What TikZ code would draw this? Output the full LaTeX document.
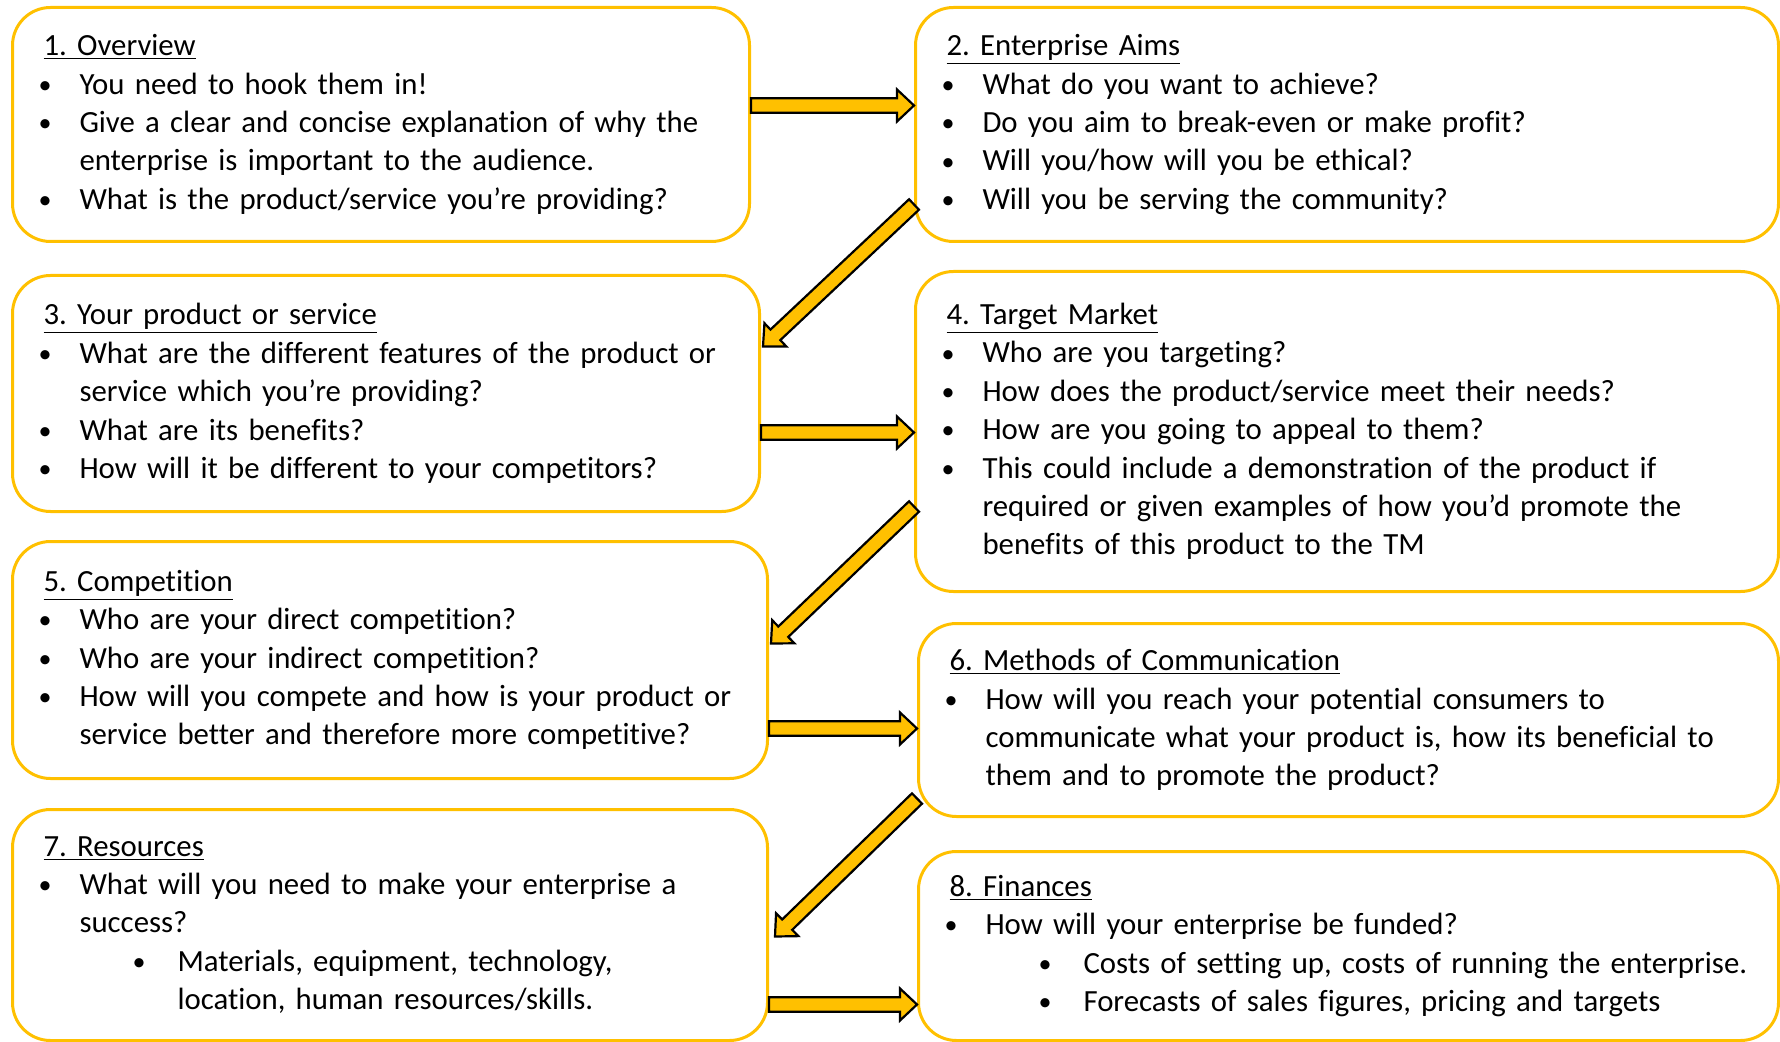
\documentclass[tikz,border=0pt]{standalone}
\usepackage{fontspec}
\setmainfont{Carlito}[Ligatures=CommonOff]
\usepackage{tikz}
\usetikzlibrary{calc, positioning}
\frenchspacing
\definecolor{boxgold}{HTML}{FFC000}
\def\shaftw{3.6pt}
\def\headw{8pt}
\def\headl{8.5pt}
\def\lpad{7.5pt}
\newcommand\bulletdot{\hspace*{-2.5pt}\raisebox{0.4pt}{\fontsize{13pt}{13pt}\selectfont\textbullet}}
\newcommand\heading[1]{\noindent\hspace*{\lpad}\underline{#1}\par}
\newcommand\bitem[1]{\hangindent=25.5pt\hangafter=1\noindent\hspace*{\lpad}\makebox[18pt][l]{\bulletdot}#1\par}
\newcommand\sitem[1]{\hangindent=74.5pt\hangafter=1\noindent\hspace*{\lpad}\hspace*{47pt}\makebox[20pt][l]{\bulletdot}#1\par}
\newcommand\blockarrow[2]{
    \coordinate (#1h) at ($(#2)!\headl!(#1)$);
    \draw[blockarrow] ($(#1)!\shaftw!90:(#2)$) -- ($(#1h)!\shaftw!90:(#2)$) -- ($(#1h)!\headw!90:(#2)$) -- (#2)
        -- ($(#1h)!\headw!-90:(#2)$) -- ($(#1h)!\shaftw!-90:(#2)$) -- ($(#1)!\shaftw!-90:(#2)$) -- cycle;
    }
\tikzset{
    box/.style = {
        draw=boxgold, line width=1.5pt, rounded corners=19pt, anchor=north west,
        inner xsep=8pt, inner ysep=0pt, align=left, font=\fontsize{15.4pt}{19.2pt}\selectfont
    },
    blockarrow/.style = {
        draw=black, fill=boxgold, line width=1.1pt, line join=miter
    },
}

\begin{document}
\begin{tikzpicture}[x=0.5pt, y=-0.5pt]
    \useasboundingbox (0,0) rectangle (1780,1042);
    % Place the boxes
    \node[box, minimum width=368.5pt, minimum height=117pt, text width=352.5pt] (b1) at (11,6) {
        \heading{1. Overview}
        \bitem{You need to hook them in!}
        \bitem{Give a clear and concise explanation of why the\newline enterprise is important to the audience.}
        \bitem{What is the product/service you’re providing?}
    };
    \node[box, minimum width=431.5pt, minimum height=117pt, text width=415.5pt] (b2) at (914,6) {
        \heading{2. Enterprise Aims}
        \bitem{What do you want to achieve?}
        \bitem{Do you aim to break-even or make profit?}
        \bitem{Will you/how will you be ethical?}
        \bitem{Will you be serving the community?}
    };
    \node[box, minimum width=373.5pt, minimum height=118pt, text width=357.5pt] (b3) at (11,274) {
        \heading{3. Your product or service}
        \bitem{What are the different features of the product or\newline service which you’re providing?}
        \bitem{What are its benefits?}
        \bitem{How will it be different to your competitors?}
    };
    \node[box, minimum width=431.5pt, minimum height=160pt, text width=415.5pt] (b4) at (914,270) {
        \heading{4. Target Market}
        \bitem{Who are you targeting?}
        \bitem{How does the product/service meet their needs?}
        \bitem{How are you going to appeal to them?}
        \bitem{This could include a demonstration of the product if\newline required or given examples of how you’d promote the\newline benefits of this product to the TM}
    };
    \node[box, minimum width=377.5pt, minimum height=118.5pt, text width=361.5pt] (b5) at (11,540) {
        \heading{5. Competition}
        \bitem{Who are your direct competition?}
        \bitem{Who are your indirect competition?}
        \bitem{How will you compete and how is your product or\newline service better and therefore more competitive?}
    };
    \node[box, minimum width=430pt, minimum height=96.5pt, text width=414pt] (b6) at (917,622) {
        \heading{6. Methods of Communication}
        \bitem{How will you reach your potential consumers to\newline communicate what your product is, how its beneficial to\newline them and to promote the product?}
    };
    \node[box, minimum width=377.5pt, minimum height=115.5pt, text width=361.5pt] (b7) at (11,808) {
        \heading{7. Resources}
        \bitem{What will you need to make your enterprise a\newline success?}
        \sitem{Materials, equipment, technology,\newline location, human resources/skills.}
    };
    \node[box, minimum width=430pt, minimum height=94.5pt, text width=414pt] (b8) at (917,850) {
        \heading{8. Finances}
        \bitem{How will your enterprise be funded?}
        \sitem{Costs of setting up, costs of running the enterprise.}
        \sitem{Forecasts of sales figures, pricing and targets}
    };
    % Draw connections
    \coordinate (s12) at ([yshift=9.5pt] b1.east);
    \coordinate (e12) at ([yshift=9.5pt] b2.west);
    \coordinate (s23) at ([yshift=-40pt] b2.west);
    \coordinate (e23) at ([xshift=1pt, yshift=23.5pt] b3.east);
    \coordinate (s34) at ([yshift=-19.5pt] b3.east);
    \coordinate (e34) at ([yshift=-0.5pt] b4.west);
    \coordinate (s45) at ([yshift=-37.5pt] b4.west);
    \coordinate (e45) at ([xshift=1pt, yshift=8.25pt] b5.east);
    \coordinate (s56) at ([yshift=-34.25pt] b5.east);
    \coordinate (e56) at ([yshift=-4.25pt] b6.west);
    \coordinate (s67) at ([yshift=-39.25pt] b6.west);
    \coordinate (e67) at ([xshift=3pt, yshift=-5.75pt] b7.east);
    \coordinate (s78) at ([yshift=-39.75pt] b7.east);
    \coordinate (e78) at ([yshift=-29.25pt] b8.west);
    \foreach \a/\b in {s12/e12, s23/e23, s34/e34, s45/e45, s56/e56, s67/e67, s78/e78}{
        \blockarrow{\a}{\b}
    }
\end{tikzpicture}
\end{document}
